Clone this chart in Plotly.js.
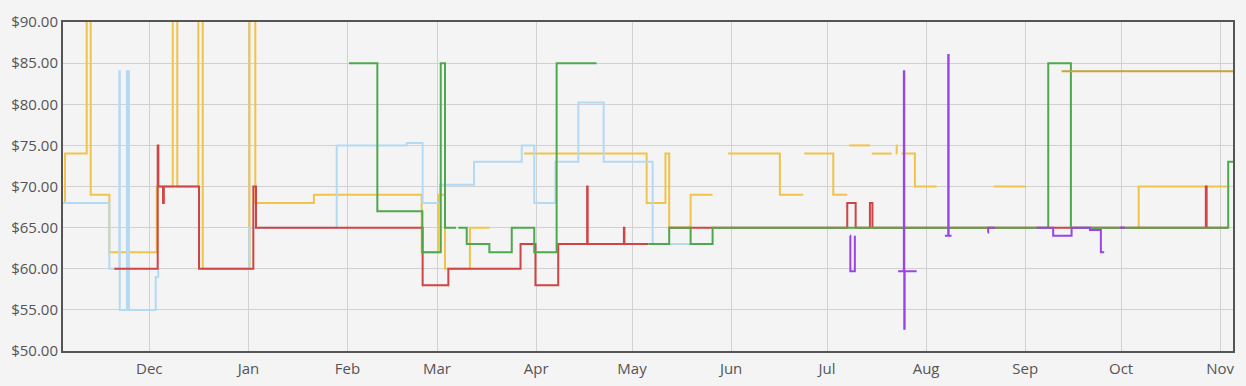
<!DOCTYPE html>
<html>
<head>
<meta charset="utf-8">
<script src="https://cdn.plot.ly/plotly-3.0.1.min.js"></script>
<style>
  html, body { margin: 0; padding: 0; background: #f4f4f4; }
  #chart { width: 1246px; height: 386px; }
</style>
</head>
<body>
<div id="chart"></div>
<script>
// ---- Data (dates, prices in USD); null = gap ----
const yellowDates = ['2022-11-04 00:00','2022-11-04 15:00','2022-11-11 10:00','2022-11-12 16:00','2022-11-18 12:00','2022-12-03 08:00','2022-12-08 08:00','2022-12-09 18:00','2022-12-16 08:00','2022-12-17 17:00','2023-01-01 08:00','2023-01-03 04:00','2023-01-21 12:00','2023-02-24 05:00','2023-03-01 10:00','2023-03-03 12:00','2023-03-11 07:00','2023-03-17 09:00','2023-03-20 00:00','2023-03-28 05:00','2023-05-05 14:00','2023-05-11 11:00','2023-05-12 15:00','2023-05-19 08:00','2023-05-26 05:00','2023-05-28 00:00','2023-05-31 02:00','2023-06-16 06:00','2023-06-23 13:00','2023-06-23 17:00','2023-06-23 21:00','2023-07-02 23:00','2023-07-07 08:00','2023-07-07 16:00','2023-07-07 23:00','2023-07-14 10:00','2023-07-14 17:00','2023-07-15 00:00','2023-07-21 05:00','2023-07-22 00:00','2023-07-22 15:00','2023-07-22 19:00','2023-07-22 22:00','2023-07-23 12:00','2023-07-24 08:00','2023-07-28 12:00','2023-08-04 07:00','2023-08-10 00:00','2023-08-22 05:00','2023-09-01 05:00','2023-09-10 00:00','2023-10-06 06:00','2023-10-06 12:00','2023-11-03 00:00'];
const yellowPrices = [68,74,100,69,62,70,100,70,100,60,100,68,69,62,69,60,65,65,null,74,68,74,65,69,69,null,74,69,69,null,74,69,69,null,75,75,null,74,74,null,75,74,74,null,74,70,70,null,70,70,null,65,70,70];

const blueDates = ['2022-11-04 00:00','2022-11-18 12:00','2022-11-21 15:00','2022-11-21 18:00','2022-11-24 00:00','2022-11-24 15:00','2022-12-03 00:00','2022-12-03 19:00','2022-12-10 00:00','2023-01-01 03:00','2023-01-01 06:00','2023-01-28 15:00','2023-02-19 12:00','2023-02-24 12:00','2023-03-01 22:00','2023-03-12 14:00','2023-03-27 12:00','2023-03-31 10:00','2023-04-07 01:00','2023-04-14 05:00','2023-04-22 03:00','2023-05-07 11:00','2023-05-19 06:00'];
const bluePrices = [68,60,84,55,84,55,59,60,null,60,65,75,75.3,68,70.2,73,75,68,73,80.2,73,63,63];

const redDates = ['2022-11-20 01:00','2022-12-03 15:00','2022-12-03 20:00','2022-12-05 07:00','2022-12-05 13:00','2022-12-16 13:00','2023-01-02 13:00','2023-01-03 09:00','2023-02-24 12:00','2023-03-04 13:00','2023-03-27 03:00','2023-03-31 19:00','2023-04-07 22:00','2023-04-16 23:00','2023-04-17 03:00','2023-04-28 11:00','2023-04-28 15:00','2023-05-06 02:00','2023-05-09 00:00','2023-05-12 15:00','2023-07-07 08:00','2023-07-09 23:00','2023-07-14 10:00','2023-07-15 05:00','2023-10-27 12:00','2023-10-27 18:00','2023-11-03 10:00'];
const redPrices = [60,75,70,68,70,60,70,65,58,60,63,58,63,70,63,65,63,63,null,65,68,65,68,65,70,65,65];

const greenDates = ['2023-02-01 11:00','2023-02-10 08:00','2023-02-24 10:00','2023-03-02 04:00','2023-03-03 12:00','2023-03-06 23:00','2023-03-07 08:00','2023-03-07 16:00','2023-03-10 07:00','2023-03-17 09:00','2023-03-24 09:00','2023-03-31 10:00','2023-04-07 10:00','2023-04-19 22:00','2023-04-25 00:00','2023-05-06 02:00','2023-05-12 15:00','2023-05-19 08:00','2023-05-26 05:00','2023-09-08 05:00','2023-09-15 07:00','2023-11-03 12:00','2023-11-05 00:00'];
const greenPrices = [85,67,62,85,65,65,null,65,63,62,65,62,85,85,null,63,65,63,65,85,65,73,73];

const purpleDates = ['2023-07-08 04:00','2023-07-08 07:00','2023-07-09 17:00','2023-07-10 00:00','2023-07-23 06:00','2023-07-25 01:00','2023-07-25 04:00','2023-07-25 07:00','2023-07-29 01:00','2023-08-01 00:00','2023-08-06 21:00','2023-08-07 22:00','2023-08-08 01:00','2023-08-08 23:00','2023-08-15 00:00','2023-08-20 06:00','2023-08-20 10:00','2023-08-22 12:00','2023-08-28 00:00','2023-09-04 14:00','2023-09-09 18:00','2023-09-15 12:00','2023-09-21 06:00','2023-09-24 16:00','2023-09-25 17:00','2023-09-28 00:00','2023-09-30 15:00','2023-10-02 05:00'];
const purplePrices = [64,59.7,64,null,59.7,84,52.7,59.7,59.7,null,64,86,64,64,null,64.4,65,65,null,65,64,65,64.7,62,62,null,65,65];

const goldDates = ['2023-09-12 09:00','2023-11-05 00:00'];
const goldPrices = [84,84];

const xRange = ['2022-11-04 00:00','2023-11-05 00:00'];
const yRange = [50, 90];

// ---- Build traces ----
function stepTrace(x, y, color) {
  return {
    x: x, y: y, type: 'scatter', mode: 'lines',
    line: { shape: 'hv', color: color, width: 2 },
    connectgaps: false, hoverinfo: 'skip', showlegend: false
  };
}

const traces = [
  stepTrace(yellowDates, yellowPrices, '#f0c34c'),
  stepTrace(blueDates, bluePrices, '#b3d9f3'),
  stepTrace(redDates, redPrices, '#cf4444'),
  stepTrace(greenDates, greenPrices, '#4ea84e'),
  stepTrace(purpleDates, purplePrices, '#9a44e8'),
  stepTrace(goldDates, goldPrices, '#c9a43c')
];

const axisFont = { family: 'Open Sans, Noto Sans, sans-serif', size: 15, color: '#555555' };

const layout = {
  width: 1246, height: 386,
  margin: { l: 63, r: 13, t: 22, b: 35 },
  paper_bgcolor: '#f4f4f4',
  plot_bgcolor: '#f4f4f4',
  showlegend: false,
  xaxis: {
    type: 'date',
    range: xRange,
    dtick: 'M1',
    tick0: '2022-12-01',
    tickformat: '%b',
    showgrid: true, gridcolor: '#d1d1d1', gridwidth: 1,
    showline: true, linecolor: '#555555', linewidth: 2, mirror: true,
    ticks: '', zeroline: false,
    ticklabelstandoff: 3,
    tickfont: axisFont
  },
  yaxis: {
    range: yRange,
    dtick: 5,
    tickprefix: '$',
    tickformat: '.2f',
    showgrid: true, gridcolor: '#d1d1d1', gridwidth: 1,
    showline: true, linecolor: '#555555', linewidth: 2, mirror: true,
    ticks: '', zeroline: false,
    tickfont: axisFont
  }
};

Plotly.newPlot('chart', traces, layout, { staticPlot: true, displayModeBar: false });
</script>
</body>
</html>
